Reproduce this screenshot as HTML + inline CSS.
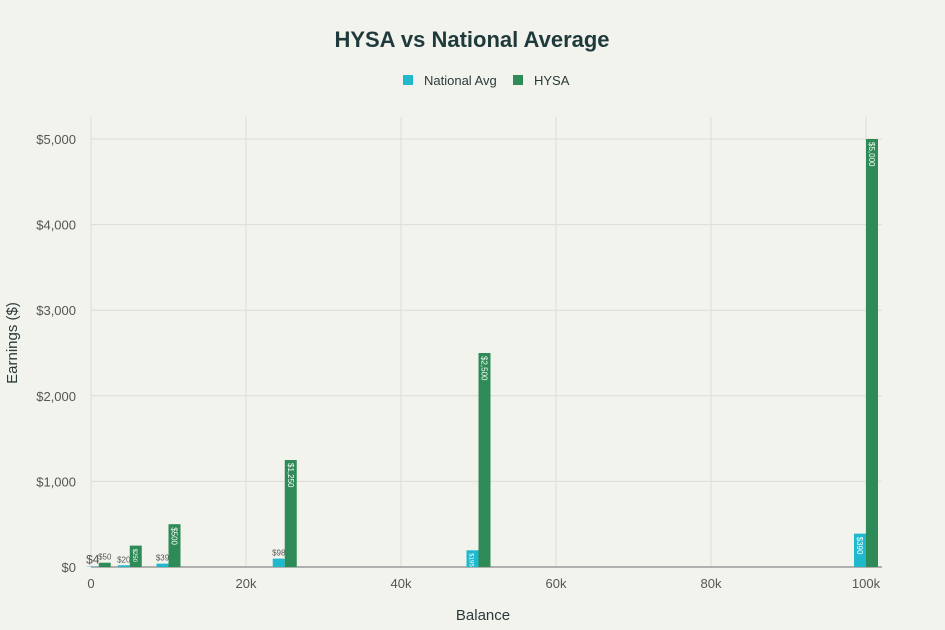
<!DOCTYPE html>
<html><head><meta charset="utf-8"><style>
body{margin:0;background:#f3f3ee;font-family:"Liberation Sans",sans-serif;}
svg{display:block}
</style></head><body>
<svg width="945" height="630" id="c">
<rect width="945" height="630" fill="#f3f3ee"/>
<text x="472" y="47" text-anchor="middle" font-size="22" font-weight="bold" fill="#1f3a3a">HYSA vs National Average</text>
<g>
<rect x="403" y="75" width="10" height="10" fill="#1fb8cd"/>
<text x="424" y="85" font-size="13" fill="#2a3a3a">National Avg</text>
<rect x="513" y="75" width="10" height="10" fill="#2e8b57"/>
<text x="534" y="85" font-size="13" fill="#2a3a3a">HYSA</text>
</g>
<text transform="translate(17,343) rotate(-90)" text-anchor="middle" font-size="15" fill="#2a3a3a">Earnings ($)</text>
<text x="483" y="620" text-anchor="middle" font-size="15" fill="#2a3a3a">Balance</text>
<g id="grid"></g><g id="bars"></g>
</svg>
<script>
const balances=[1000,5000,10000,25000,50000,100000];
const nationalAvg=[4,20,39,98,195,390];
const hysa=[50,250,500,1250,2500,5000];
const yTicks=[0,1000,2000,3000,4000,5000];
const yTickLabels=["$0","$1,000","$2,000","$3,000","$4,000","$5,000"];
const xTicks=[0,20000,40000,60000,80000,100000];
const xTickLabels=["0","20k","40k","60k","80k","100k"];
const NS="http://www.w3.org/2000/svg";
const X=v=>91+v*775/100000, Y=v=>567-v*428/5000;
const grid=document.getElementById('grid'), bars=document.getElementById('bars');
function mk(tag,attrs,parent,txt){const e=document.createElementNS(NS,tag);for(const k in attrs)e.setAttribute(k,attrs[k]);if(txt!==undefined)e.textContent=txt;parent.appendChild(e);return e;}
yTicks.forEach((t,i)=>{
  const l=mk('line',{x1:91,x2:882,y1:Y(t),y2:Y(t),stroke:'#dcdcd6','stroke-width':1},grid);
  
  
  const tx=mk('text',{x:76,y:Y(t)+5,'text-anchor':'end','font-size':13,fill:'#555'},grid,yTickLabels[i]);
  
  
});
xTicks.forEach((t,i)=>{
  const l=mk('line',{x1:X(t),x2:X(t),y1:117,y2:567,stroke:'#dcdcd6','stroke-width':1},grid);
  
  
  const tx=mk('text',{x:X(t),y:588,'text-anchor':'middle','font-size':13,fill:'#555'},grid,xTickLabels[i]);
  
  
});
const ax=mk('line',{x1:91,x2:882,y1:567,y2:567,stroke:'#999','stroke-width':1.5},grid);


const W=12;
function bar(bx,v,color,name){
  const r=mk('rect',{x:bx,y:Y(v),width:W,height:567-Y(v),fill:color},bars);
  
  
  const lab='$'+v.toLocaleString('en-US');
  const h=567-Y(v);
  let t;
  if(h>=15){
    t=mk('text',{transform:`translate(${bx+W/2-3},${Y(v)+3}) rotate(90)`,'font-size':h<25?6:8,fill:'#fff'},bars,lab);
  } else {
    t=mk('text',{x:bx+W/2,y:Y(v)-3,'text-anchor':'middle','font-size':v<10?12:8,fill:'#555'},bars,lab);
  }
  
  
}
balances.forEach((b,i)=>{
  bar(X(b)-W,nationalAvg[i],'#1fb8cd','bar-national-'+b);
  bar(X(b),hysa[i],'#2e8b57','bar-hysa-'+b);
});
</script>
</body></html>
